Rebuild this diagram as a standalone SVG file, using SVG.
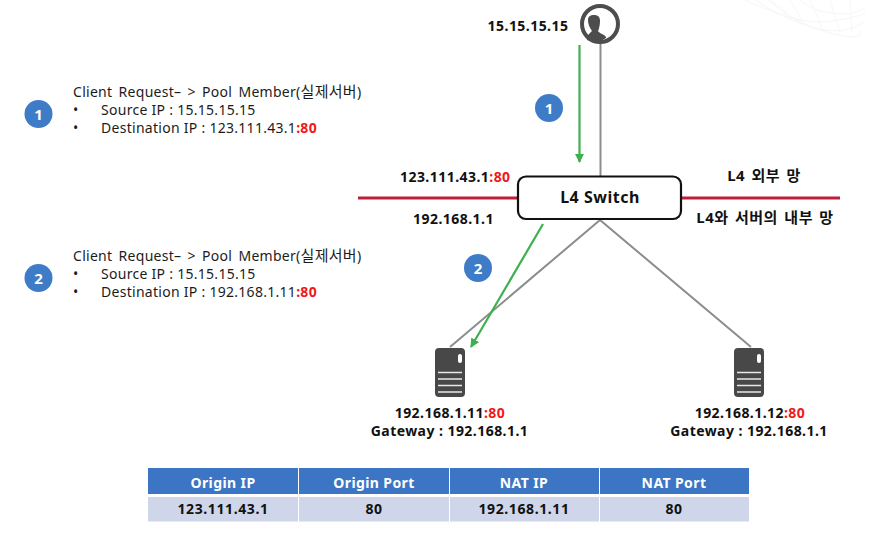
<svg xmlns="http://www.w3.org/2000/svg" width="873" height="537" viewBox="0 0 873 537">
<style>
text{font-family:"Noto Sans","Noto Sans CJK KR",sans-serif;fill:#111}
.b{font-weight:700;font-size:14px;letter-spacing:.45px}
.k{font-weight:700;font-size:15px;letter-spacing:.5px;word-spacing:2px}
.t{font-size:14px;fill:#1c1c1c;letter-spacing:.28px}
.w{word-spacing:2.3px}
.ko{font-size:15px}
.c{text-anchor:middle}
.r{fill:#f01818;font-weight:700}
.n{font-weight:700;font-size:15px;fill:#fff;text-anchor:middle}
.g{stroke:#8c8c8c;stroke-width:2;fill:none}
.a{stroke:#3eb04e;stroke-width:2.2;fill:none}
.m{stroke:#be1e3c;stroke-width:3;fill:none}
.badge{fill:#3f7cc8}
.srv{fill:#484848}
.sl{stroke:#e8e8e8;stroke-width:1.5}
.h{fill:#3b75c4}
.d{fill:#cfd6ea}
.th{font-weight:700;font-size:14px;fill:#fff;text-anchor:middle;letter-spacing:.4px}
.td{font-weight:700;font-size:14px;text-anchor:middle;letter-spacing:.6px}
</style>
<defs>
<marker id="ah" viewBox="0 0 10 10" refX="9" refY="5" markerWidth="4.2" markerHeight="4.2" orient="auto-start-reverse"><path d="M0 0L10 5L0 10z" fill="#3eb04e"/></marker>
<g id="server">
<rect x="0" y="0" width="30" height="49" rx="4" class="srv"/>
<rect x="23" y="6" width="4" height="9" rx="2" fill="#fff"/>
<path d="M3 24.500H27M3 31H27M3 37.500H27M3 44H27" class="sl"/>
</g>
</defs>
<g id="mesh" fill="none" stroke="#f6f6f6" stroke-width="1">
<path d="M745 0Q775 14 800 20T865 14M755 0Q785 20 815 28T864 22M768 0Q795 24 830 33T860 30M800 0Q815 15 850 14L865 8"/>
<path d="M770 0L786 12M790 0L803 22M810 0L822 28M830 0L840 32M850 0L852 33"/>
</g>
<g id="connectors">
<path class="g" d="M600.500 44V177"/>
<path class="m" d="M358 198H518M681 198H840"/>
<path class="g" d="M600 220L450 347M600 220L751 347"/>
<path class="a" marker-end="url(#ah)" d="M579.500 45V162"/>
<path class="a" marker-end="url(#ah)" d="M543 224L471 347"/>
</g>
<g id="client">
<path d="M587 40C586 36 590 33 592 31C589 27 588 23 588 20C588 16 591 15 594 15C598 15 600 17 600 21C600 25 599 29 598 31C600 34 604 34 606 37L606 38Q598 44 587 40Z" fill="#4d4d4d"/>
<circle cx="600" cy="24" r="18" fill="none" stroke="#4d4d4d" stroke-width="4"/>
<text class="b c" x="528" y="31">15.15.15.15</text>
</g>
<g id="switch">
<rect x="518" y="176.500" width="163" height="42.500" rx="8" fill="#fff" stroke="#111" stroke-width="2.200"/>
<text x="600" y="203" class="c" font-size="16" font-weight="700" letter-spacing=".5">L4 Switch</text>
</g>
<g id="labels">
<text class="b" x="400" y="182">123.111.43.1<tspan class="r">:80</tspan></text>
<text class="b c" x="453.500" y="224">192.168.1.1</text>
<text class="k c" x="764" y="181">L4 외부 망</text>
<text class="k c" x="765" y="223">L4와 서버의 내부 망</text>
</g>
<g id="server1">
<use href="#server" x="435" y="348"/>
<text class="b c" x="450" y="418">192.168.1.11<tspan class="r">:80</tspan></text>
<text class="b c" x="449.500" y="436">Gateway : 192.168.1.1</text>
</g>
<g id="server2">
<use href="#server" x="734" y="348"/>
<text class="b c" x="750" y="418">192.168.1.12<tspan class="r">:80</tspan></text>
<text class="b c" x="749" y="436">Gateway : 192.168.1.1</text>
</g>
<g id="step1-flow">
<circle class="badge" cx="549" cy="108" r="14"/><text class="n" x="549" y="113.500">1</text>
</g>
<g id="step2-flow">
<circle class="badge" cx="478" cy="268" r="14"/><text class="n" x="478" y="273.500">2</text>
</g>
<g id="step1-note">
<circle class="badge" cx="38.500" cy="114" r="14"/><text class="n" x="38.500" y="119.500">1</text>
<text class="t w" x="73" y="97">Client Request– &gt; Pool Member(<tspan class="ko">실제서버</tspan>)</text>
<text class="t" x="73" y="115">•</text><text class="t" x="101" y="115">Source IP : 15.15.15.15</text>
<text class="t" x="73" y="133">•</text><text class="t" x="101" y="133">Destination IP : 123.111.43.1<tspan class="r">:80</tspan></text>
</g>
<g id="step2-note">
<circle class="badge" cx="38.500" cy="278" r="14"/><text class="n" x="38.500" y="283.500">2</text>
<text class="t w" x="73" y="261">Client Request– &gt; Pool Member(<tspan class="ko">실제서버</tspan>)</text>
<text class="t" x="73" y="279">•</text><text class="t" x="101" y="279">Source IP : 15.15.15.15</text>
<text class="t" x="73" y="297">•</text><text class="t" x="101" y="297">Destination IP : 192.168.1.11<tspan class="r">:80</tspan></text>
</g>
<g id="nat-table">
<rect class="h" x="148" y="468" width="150" height="26"/><rect class="h" x="299" y="468" width="150" height="26"/><rect class="h" x="450" y="468" width="149" height="26"/><rect class="h" x="600" y="468" width="149" height="26"/>
<rect class="d" x="148" y="497" width="150" height="24.500"/><rect class="d" x="299" y="497" width="150" height="24.500"/><rect class="d" x="450" y="497" width="149" height="24.500"/><rect class="d" x="600" y="497" width="149" height="24.500"/>
<text class="th" x="223" y="488">Origin IP</text><text class="th" x="374" y="488">Origin Port</text><text class="th" x="524" y="488">NAT IP</text><text class="th" x="674" y="488">NAT Port</text>
<text class="td" x="223" y="514">123.111.43.1</text><text class="td" x="374" y="514">80</text><text class="td" x="524" y="514">192.168.1.11</text><text class="td" x="674" y="514">80</text>
</g>
</svg>
